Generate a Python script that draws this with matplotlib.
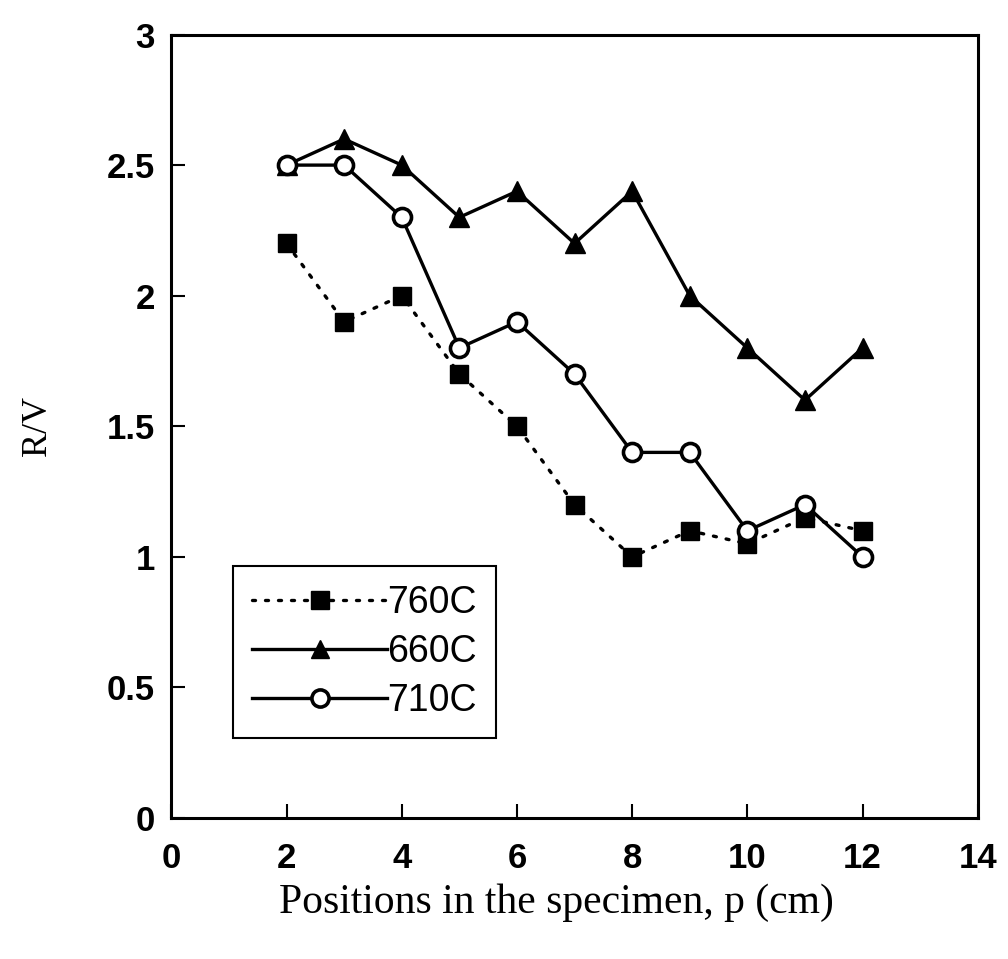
import numpy as np
import matplotlib
matplotlib.use("Agg")
import matplotlib.pyplot as plt

# data
positions = [2, 3, 4, 5, 6, 7, 8, 9, 10, 11, 12]
rv_760 = [2.2, 1.9, 2.0, 1.7, 1.5, 1.2, 1.0, 1.1, 1.05, 1.15, 1.1]
rv_660 = [2.5, 2.6, 2.5, 2.3, 2.4, 2.2, 2.4, 2.0, 1.8, 1.6, 1.8]
rv_710 = [2.5, 2.5, 2.3, 1.8, 1.9, 1.7, 1.4, 1.4, 1.1, 1.2, 1.0]
xticks = [0, 2, 4, 6, 8, 10, 12, 14]
yticks = [0, 0.5, 1, 1.5, 2, 2.5, 3]

fig = plt.figure(figsize=(10.08, 9.59), dpi=100)
ax = fig.add_axes([0.170, 0.147, 0.800, 0.817])

ax.plot(positions, rv_760, color='black', lw=2.4, ls=(0, (0.9, 3.0)),
        dash_capstyle='round', marker='s', ms=13, label='760C')
ax.plot(positions, rv_660, color='black', lw=2.4, marker='^', ms=14,
        label='660C')
ax.plot(positions, rv_710, color='black', lw=2.4, marker='o', ms=13,
        mfc='white', mew=2.6, label='710C')

ax.set_xlim(0, 14)
ax.set_ylim(0, 3)
ax.set_xticks(xticks)
ax.set_yticks(yticks)
ax.set_yticklabels(['0', '0.5', '1', '1.5', '2', '2.5', '3'])
ax.tick_params(direction='in', length=10, width=1.5, labelsize=25)
ax.tick_params(axis='x', pad=17)
ax.tick_params(axis='y', pad=12)
for lab in ax.get_xticklabels() + ax.get_yticklabels():
    lab.set_fontfamily('Liberation Sans')
    lab.set_fontweight('bold')
for s in ax.spines.values():
    s.set_linewidth(2.2)

ax.set_xlabel('Positions in the specimen, p (cm)', fontsize=30,
              family='Liberation Serif')
ax.xaxis.set_label_coords(0.477, -0.083)
ax.set_ylabel('R/V', fontsize=26, family='Liberation Serif', labelpad=38)

leg = ax.legend(loc='lower left', bbox_to_anchor=(0.077, 0.102), fancybox=False,
                edgecolor='black', framealpha=1, handlelength=3.6,
                handletextpad=0.0, markerscale=0.95, borderpad=0.5,
                labelspacing=0.35, borderaxespad=0,
                prop={'family': 'Liberation Sans', 'size': 27})
leg.get_frame().set_linewidth(1.5)

fig.savefig('out.png', dpi=100)
